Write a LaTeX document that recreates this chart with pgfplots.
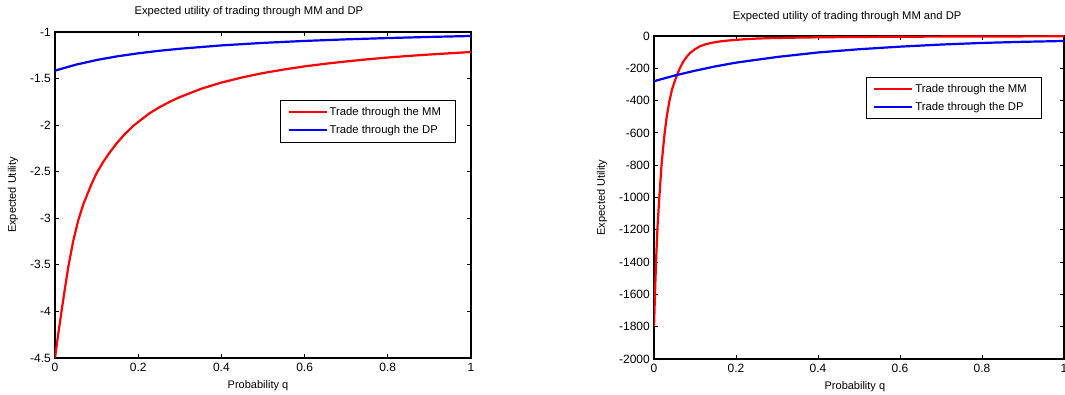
\documentclass[border=0pt]{standalone}
\usepackage{pgfplots}
\pgfplotsset{compat=1.18}
\usepackage{fontspec}
\setmainfont{Liberation Sans}
\pgfplotsset{
  mystyle/.style={
    scale only axis,
    axis line style={line width=1.2pt},
    every tick/.style={black, line width=0.8pt},
    major tick length=4pt,
    tick align=inside,
    xmin=0, xmax=1,
    xtick={0,0.2,0.4,0.6,0.8,1},
    /pgf/number format/assume math mode=true,
    /pgf/number format/1000 sep={},
    tick label style={font=\fontsize{12}{14}\selectfont},
    yticklabel style={inner sep=0pt, xshift=-4pt},
    xticklabel style={inner sep=0pt, yshift=-5pt},
    label style={font=\fontsize{11}{13}\selectfont},
    title style={font=\fontsize{11.2}{13}\selectfont, anchor=center},
    legend cell align=left,
    legend image code/.code={\draw[#1, line width=2pt] (0pt,0pt) -- (38pt,0pt);},
    legend style={anchor=north east, draw=black, line width=0.9pt,
      font=\fontsize{11.3}{13}\selectfont, inner xsep=7pt, inner ysep=5pt,
      row sep=4pt},
  }
}
\begin{document}
\begin{tikzpicture}
\path[use as bounding box] (0,0) rectangle (1065pt,395pt);
% Left axis
\begin{axis}[mystyle,
  at={(55pt,37pt)}, anchor=south west,
  width=416pt, height=326pt,
  ymin=-4.5, ymax=-1,
  ytick={-4.5,-4,-3.5,-3,-2.5,-2,-1.5,-1},
  yticklabels={-4.5,-4,-3.5,-3,-2.5,-2,-1.5,-1},
  title={Expected utility of trading through MM and DP},
  title style={at={(axis description cs:0.466,1.043)}},
  xlabel={Probability q},
  xlabel style={at={(axis description cs:0.488,-0.086)}, anchor=center},
  ylabel={Expected Utility},
  ylabel style={at={(axis description cs:-0.101,0.5)}, anchor=center, rotate=0},
  legend style={at={(0.964,0.791)}},
]
\addplot[red, line width=2.2pt] coordinates {
(0,-4.5) (0.004,-4.365) (0.008,-4.235) (0.016,-3.99) (0.024,-3.75) (0.032,-3.52)
(0.044,-3.24) (0.056,-3.02) (0.068,-2.85) (0.078,-2.74) (0.088,-2.63) (0.1,-2.515)
(0.116,-2.395) (0.13,-2.303) (0.148,-2.197) (0.165,-2.110) (0.188,-2.008) (0.21,-1.931)
(0.228,-1.870) (0.252,-1.806) (0.275,-1.751) (0.3,-1.699) (0.35,-1.612) (0.4,-1.543)
(0.45,-1.488) (0.5,-1.441) (0.55,-1.403) (0.6,-1.369) (0.65,-1.341) (0.7,-1.316)
(0.75,-1.294) (0.8,-1.274) (0.85,-1.257) (0.9,-1.242) (0.95,-1.228) (1.0,-1.215)};
\addlegendentry{\makebox[117pt][l]{Trade through the MM}}
\addplot[blue, line width=2.2pt] coordinates {
(0,-1.415) (0.05,-1.351) (0.1,-1.301) (0.15,-1.261) (0.2,-1.229) (0.25,-1.202)
(0.3,-1.180) (0.4,-1.144) (0.5,-1.117) (0.6,-1.096) (0.7,-1.079) (0.8,-1.065)
(0.9,-1.053) (1.0,-1.043)};
\addlegendentry{\makebox[117pt][l]{Trade through the DP}}
\end{axis}
% Right axis
\begin{axis}[mystyle,
  at={(654pt,36pt)}, anchor=south west,
  width=410pt, height=323pt,
  ymin=-2000, ymax=0,
  ytick={-2000,-1800,-1600,-1400,-1200,-1000,-800,-600,-400,-200,0},
  yticklabels={-2000,-1800,-1600,-1400,-1200,-1000,-800,-600,-400,-200,0},
  title={Expected utility of trading through MM and DP},
  title style={at={(axis description cs:0.471,1.043)}},
  xlabel={Probability q},
  xlabel style={at={(axis description cs:0.490,-0.087)}, anchor=center},
  ylabel={Expected Utility},
  ylabel style={at={(axis description cs:-0.127,0.5)}, anchor=center, rotate=0},
  legend style={at={(0.946,0.873)}},
]
\addplot[red, line width=2.2pt] coordinates {
(0,-1800) (0.003,-1550) (0.006,-1330) (0.009,-1160) (0.013,-1000) (0.018,-810)
(0.022,-700) (0.026,-600) (0.031,-500) (0.037,-410) (0.044,-330) (0.05,-285)
(0.056,-242) (0.063,-200) (0.071,-160) (0.08,-128) (0.088,-105) (0.1,-82)
(0.112,-64) (0.125,-52) (0.141,-42) (0.16,-34) (0.181,-28) (0.2,-24) (0.222,-20)
(0.25,-16) (0.287,-13) (0.35,-10) (0.4,-8) (0.5,-6) (0.6,-4.5) (0.8,-3) (1.0,-2)};
\addlegendentry{\makebox[117pt][l]{Trade through the MM}}
\addplot[blue, line width=2.2pt] coordinates {
(0,-280) (0.05,-245) (0.1,-215) (0.15,-188) (0.2,-165) (0.3,-130) (0.4,-102)
(0.5,-82) (0.6,-66) (0.7,-53) (0.8,-43) (0.9,-36) (1.0,-31)};
\addlegendentry{\makebox[117pt][l]{Trade through the DP}}
\end{axis}
\end{tikzpicture}
\end{document}
